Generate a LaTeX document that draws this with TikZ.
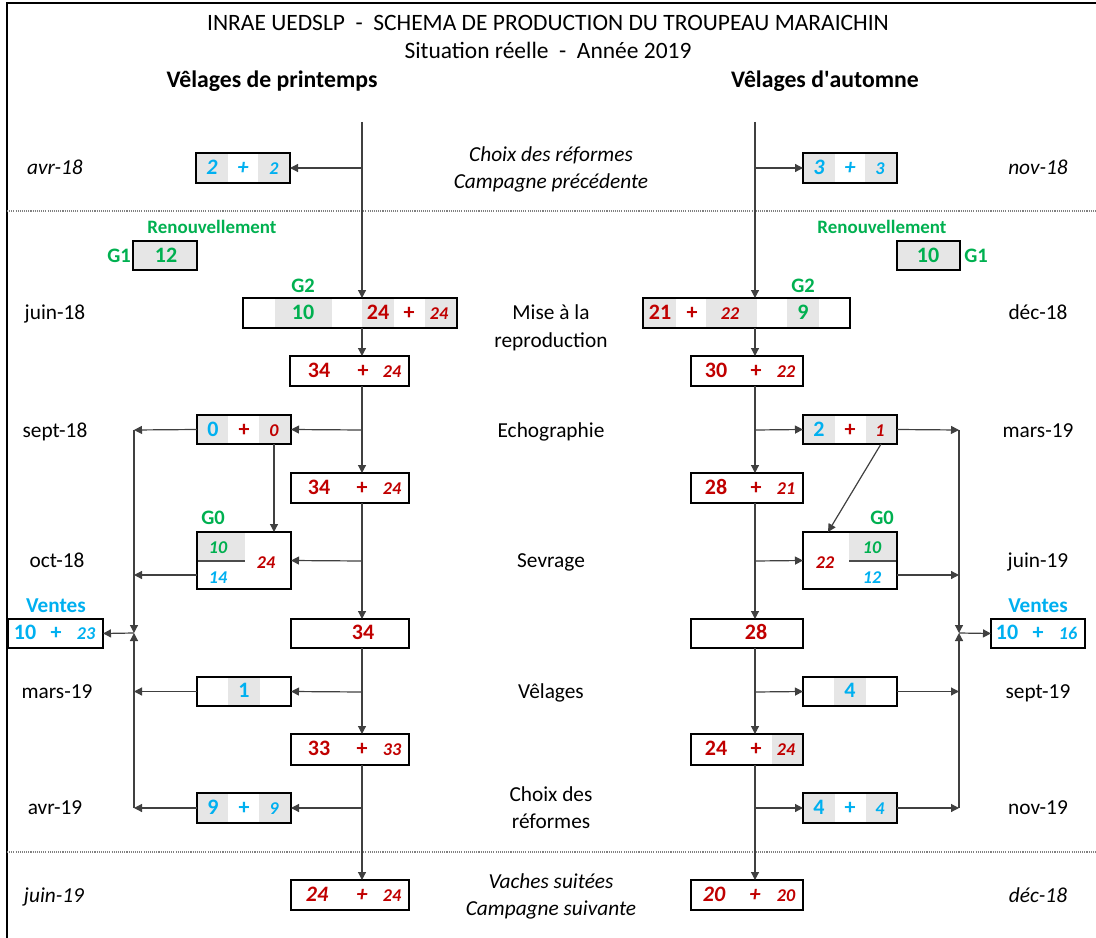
\documentclass[tikz,border=0pt]{standalone}
\usepackage{fontspec}
\setmainfont{Carlito}
\newfontfamily\nqfont{Carlito}
\usetikzlibrary{arrows.meta}
\definecolor{cred}{HTML}{C00000}
\definecolor{cblue}{HTML}{00B0F0}
\definecolor{cgreen}{HTML}{00B050}
\definecolor{cgray}{HTML}{E6E6E6}
\definecolor{cline}{HTML}{404040}
\newcommand\mybox[5]{\node[bx, minimum width={(#4-#2)*0.75pt}, minimum height={(#5-#3)*0.75pt}] (#1) at ({(#2+#4)/2},{(#3+#5)/2}) {};}
\newcommand\mycell[4]{\fill[cgray] (#1,#2) rectangle (#3,#4);}
\newcommand\tx[5][]{\node[tt,#1] (#2) at (#3,#4) {#5};}
\begin{document}
\begin{tikzpicture}[x=0.75pt,y=-0.75pt,
  tt/.style={inner sep=0pt, outer sep=0pt, anchor=center, text height=11pt, text depth=1pt, font=\fontsize{16}{19}\selectfont},
  it/.style={font=\fontsize{16}{19}\selectfont\itshape},
  hd/.style={font=\fontsize{17.8}{21}\selectfont\bfseries},
  ti/.style={font=\fontsize{17.6}{20}\selectfont},
  ren/.style={font=\fontsize{14.2}{17}\selectfont\bfseries, text=cgreen},
  glab/.style={font=\fontsize{15.4}{18}\selectfont\bfseries, text=cgreen},
  vlab/.style={font=\fontsize{15.9}{18}\selectfont\bfseries, text=cblue},
  num/.style={font=\fontsize{16.5}{19}\selectfont\bfseries},
  numi/.style={font=\fontsize{16.5}{19}\selectfont\bfseries\itshape},
  sm/.style={font=\fontsize{13.5}{16}\selectfont\bfseries\itshape},
  bx/.style={draw=black, line width=1.5pt, inner sep=0pt, outer sep=0pt},
  arr/.style={draw=cline, line width=0.9pt, -{Triangle[length=6pt,width=6pt]}},
  ln/.style={draw=cline, line width=0.9pt},
  sep/.style={draw=gray, line width=1.3pt, dash pattern=on 0.8pt off 0.8pt}]
\useasboundingbox (0,0) rectangle (1096,938);
% frame and separators
\draw[line width=1.5pt] (7,940) -- (7,3) -- (1098,3);
\draw[sep] (7,211) -- (1096,211);
\draw[sep] (7,852) -- (1096,852);
% titles
\tx[ti]{title1}{548}{24}{INRAE UEDSLP~~-~~SCHEMA DE PRODUCTION DU TROUPEAU MARAICHIN}
\tx[ti]{title2}{548}{52}{Situation réelle~~-~~Année 2019}
\tx[hd]{hdrL}{272}{81}{Vêlages de printemps}
\tx[hd]{hdrR}{825}{81}{Vêlages d{\nqfont '}automne}
% middle labels
\tx[it]{m0a}{551}{155}{Choix des réformes}
\tx[it]{m0b}{551}{182}{Campagne précédente}
\tx{m1a}{551}{313}{Mise à la}
\tx{m1b}{551}{341}{reproduction}
\tx{m2}{551}{431}{Echographie}
\tx{m3}{551}{561}{Sevrage}
\tx{m4}{551}{692}{Vêlages}
\tx{m5a}{551}{795}{Choix des}
\tx{m5b}{551}{822}{réformes}
\tx[it]{m6a}{551}{882}{Vaches suitées}
\tx[it]{m6b}{551}{909}{Campagne suivante}
% dates left
\tx[it]{dL0}{55}{168}{avr-18}
\tx{dL1}{55}{313}{juin-18}
\tx{dL2}{55}{431}{sept-18}
\tx{dL3}{57}{561}{oct-18}
\tx{dL4}{57}{692}{mars-19}
\tx{dL5}{55}{808}{avr-19}
\tx[it]{dL6}{54}{896}{juin-19}
% dates right
\tx[it]{dR0}{1038}{168}{nov-18}
\tx{dR1}{1038}{313}{déc-18}
\tx{dR2}{1038}{431}{mars-19}
\tx{dR3}{1038}{561}{juin-19}
\tx{dR4}{1038}{692}{sept-19}
\tx{dR5}{1038}{808}{nov-19}
\tx[it]{dR6}{1038}{896}{déc-18}
% grey cells
\mycell{196}{153}{228}{183}\mycell{258}{153}{290}{183}
\mycell{803}{153}{835}{183}\mycell{865}{153}{897}{183}
\mycell{133}{241}{197}{270}\mycell{897}{241}{960}{270}
\mycell{275}{298}{332}{328}\mycell{362}{298}{394}{328}\mycell{425}{298}{457}{328}
\mycell{643}{298}{676}{328}\mycell{706}{298}{757}{328}\mycell{787}{298}{819}{328}
\mycell{197}{415}{228}{444}\mycell{259}{415}{291}{444}
\mycell{803}{415}{835}{444}\mycell{866}{415}{897}{444}
\mycell{197}{532}{245}{561}\mycell{849}{532}{897}{561}
\mycell{228}{677}{260}{706}\mycell{834}{677}{866}{706}
\mycell{772}{734}{803}{765}
\mycell{197}{793}{228}{823}\mycell{259}{793}{291}{823}
\mycell{803}{793}{835}{823}\mycell{866}{793}{897}{823}
\draw[gray!60!black, line width=1.5pt] (197,561) -- (245,561);
\draw[gray!60!black, line width=1.5pt] (849,561) -- (897,561);
% boxes
\mybox{r0L}{196}{153}{290}{183}
\mybox{r0R}{803}{153}{897}{183}
\mybox{g1L}{133}{241}{197}{270}
\mybox{g1R}{897}{241}{960}{270}
\mybox{g2L}{243}{298}{457}{328}
\mybox{g2R}{643}{298}{850}{328}
\mybox{aL}{290}{356}{409}{386}
\mybox{aR}{691}{356}{803}{386}
\mybox{echoL}{197}{415}{291}{444}
\mybox{echoR}{803}{415}{897}{444}
\mybox{bL}{291}{473}{409}{503}
\mybox{bR}{691}{473}{803}{503}
\mybox{g0L}{197}{532}{291}{589}
\mybox{g0R}{803}{532}{897}{589}
\mybox{venL}{8}{619}{103}{648}
\mybox{venR}{991}{619}{1085}{648}
\mybox{cL}{291}{619}{409}{648}
\mybox{cR}{691}{619}{803}{648}
\mybox{velL}{197}{677}{291}{706}
\mybox{velR}{803}{677}{897}{706}
\mybox{dL}{291}{734}{409}{765}
\mybox{dR}{691}{734}{803}{765}
\mybox{refL}{197}{793}{291}{823}
\mybox{refR}{803}{793}{897}{823}
\mybox{finL}{291}{880}{409}{910}
\mybox{finR}{691}{880}{803}{910}
% box texts
\tx[numi,text=cblue]{t1}{212}{168}{2}\tx[numi,text=cblue]{t2}{243}{168}{+}\tx[sm,text=cblue]{t3}{274}{168}{2}
\tx[numi,text=cblue]{t4}{819}{168}{3}\tx[numi,text=cblue]{t5}{850}{168}{+}\tx[sm,text=cblue]{t6}{880}{168}{3}
\tx[ren]{renL}{212}{227}{Renouvellement}
\tx[ren]{renR}{882}{227}{Renouvellement}
\tx[glab]{g1La}{119}{256}{G1}\tx[num,text=cgreen]{t7}{166}{256}{12}
\tx[glab]{g1Ra}{976}{256}{G1}\tx[num,text=cgreen]{t8}{928}{256}{10}
\tx[glab]{g2La}{303}{286}{G2}\tx[glab]{g2Ra}{803}{286}{G2}
\tx[num,text=cgreen]{t9}{303}{313}{10}\tx[num,text=cred]{t10}{378}{313}{24}\tx[num,text=cred]{t11}{409}{313}{+}\tx[sm,text=cred]{t12}{439}{313}{24}
\tx[num,text=cred]{t13}{660}{313}{21}\tx[num,text=cred]{t14}{692}{313}{+}\tx[sm,text=cred]{t15}{730}{313}{22}\tx[num,text=cgreen]{t16}{803}{313}{9}
\tx[num,text=cred]{t17}{319}{371}{34}\tx[num,text=cred]{t18}{363}{371}{+}\tx[sm,text=cred]{t19}{392}{371}{24}
\tx[num,text=cred]{t20}{716}{371}{30}\tx[num,text=cred]{t21}{756}{371}{+}\tx[sm,text=cred]{t22}{786}{371}{22}
\tx[num,text=cblue]{t23}{213}{430}{0}\tx[num,text=cred]{t24}{244}{430}{+}\tx[sm,text=cred]{t25}{274}{430}{0}
\tx[num,text=cblue]{t26}{819}{430}{2}\tx[num,text=cred]{t27}{850}{430}{+}\tx[sm,text=cred]{t28}{880}{430}{1}
\tx[num,text=cred]{t29}{319}{488}{34}\tx[num,text=cred]{t30}{362}{488}{+}\tx[sm,text=cred]{t31}{392}{488}{24}
\tx[num,text=cred]{t32}{716}{488}{28}\tx[num,text=cred]{t33}{756}{488}{+}\tx[sm,text=cred]{t34}{786}{488}{21}
\tx[glab]{g0La}{213}{518}{G0}\tx[glab]{g0Ra}{882}{518}{G0}
\tx[sm,text=cgreen]{t35}{218}{547}{10}\tx[sm,text=cblue]{t36}{218}{577}{14}\tx[sm,text=cred]{t37}{266}{562}{24}
\tx[sm,text=cgreen]{t38}{872}{547}{10}\tx[sm,text=cblue]{t39}{872}{577}{12}\tx[sm,text=cred]{t40}{825}{562}{22}
\tx[vlab]{venLa}{56}{606}{Ventes}\tx[vlab]{venRa}{1038}{606}{Ventes}
\tx[num,text=cblue]{t41}{25}{633}{10}\tx[num,text=cblue]{t42}{56}{633}{+}\tx[sm,text=cblue]{t43}{86}{633}{23}
\tx[num,text=cblue]{t44}{1007}{633}{10}\tx[num,text=cblue]{t45}{1038}{633}{+}\tx[sm,text=cblue]{t46}{1068}{633}{16}
\tx[num,text=cred]{t47}{363}{633}{34}
\tx[num,text=cred]{t48}{756}{633}{28}
\tx[num,text=cblue]{t49}{244}{691}{1}
\tx[num,text=cblue]{t50}{850}{691}{4}
\tx[num,text=cred]{t51}{319}{749}{33}\tx[num,text=cred]{t52}{362}{749}{+}\tx[sm,text=cred]{t53}{392}{749}{33}
\tx[num,text=cred]{t54}{716}{749}{24}\tx[num,text=cred]{t55}{756}{749}{+}\tx[sm,text=cred]{t56}{786}{749}{24}
\tx[num,text=cblue]{t57}{213}{808}{9}\tx[num,text=cblue]{t58}{244}{808}{+}\tx[sm,text=cblue]{t59}{274}{808}{9}
\tx[num,text=cblue]{t60}{819}{808}{4}\tx[num,text=cblue]{t61}{850}{808}{+}\tx[sm,text=cblue]{t62}{880}{808}{4}
\tx[numi,text=cred]{t63}{317}{895}{24}\tx[numi,text=cred]{t64}{362}{895}{+}\tx[sm,text=cred]{t65}{392}{895}{24}
\tx[numi,text=cred]{t66}{714}{895}{20}\tx[numi,text=cred]{t67}{755}{895}{+}\tx[sm,text=cred]{t68}{786}{895}{20}
% coordinates
\coordinate (topL) at (362,122);
\coordinate (topR) at (755,122);
\coordinate (sL0) at (362,168);
\coordinate (sR0) at (755,168);
\coordinate (sL1) at (362,430);
\coordinate (sR1) at (755,430);
\coordinate (sL2) at (362,561);
\coordinate (sR2) at (755,561);
\coordinate (sL3) at (362,692);
\coordinate (sR3) at (755,692);
\coordinate (sL4) at (362,808);
\coordinate (sR4) at (755,808);
\coordinate (colLtop) at (134,430);
\coordinate (colLmid) at (134,633);
\coordinate (colLbot) at (134,808);
\coordinate (colRtop) at (959,430);
\coordinate (colRmid) at (959,633);
\coordinate (colRbot) at (959,808);
\coordinate (g0Lout) at (197,575);
\coordinate (g0Rout) at (897,575);
\coordinate (echoLdn) at (274,444);
\coordinate (echoRdn) at (881,444);
\coordinate (g0Rin) at (828,532);
% main lines
\draw[arr] (topL) -- (topL |- g2L.north);
\draw[arr] (topR) -- (topR |- g2R.north);
\draw[arr] (topL |- g2L.south) -- (topL |- aL.north);
\draw[arr] (topR |- g2R.south) -- (topR |- aR.north);
\draw[arr] (topL |- aL.south) -- (topL |- bL.north);
\draw[arr] (topR |- aR.south) -- (topR |- bR.north);
\draw[arr] (topL |- bL.south) -- (topL |- cL.north);
\draw[arr] (topR |- bR.south) -- (topR |- cR.north);
\draw[arr] (topL |- cL.south) -- (topL |- dL.north);
\draw[arr] (topR |- cR.south) -- (topR |- dR.north);
\draw[arr] (topL |- dL.south) -- (topL |- finL.north);
\draw[arr] (topR |- dR.south) -- (topR |- finR.north);
% side arrows
\draw[arr] (sL0) -- (r0L.east);
\draw[arr] (sR0) -- (r0R.west);
\draw[arr] (sL1) -- (echoL.east);
\draw[arr] (sR1) -- (echoR.west);
\draw[arr] (sL2) -- (g0L.east);
\draw[arr] (sR2) -- (g0R.west);
\draw[arr] (sL3) -- (velL.east);
\draw[arr] (sR3) -- (velR.west);
\draw[arr] (sL4) -- (refL.east);
\draw[arr] (sR4) -- (refR.west);
% to collectors
\draw[arr] (echoL.west) -- (colLtop);
\draw[arr] (g0Lout) -- (colLtop |- g0Lout);
\draw[arr] (velL.west) -- (colLtop |- velL.west);
\draw[arr] (refL.west) -- (colLbot);
\draw[arr] (echoR.east) -- (colRtop);
\draw[arr] (g0Rout) -- (colRtop |- g0Rout);
\draw[arr] (velR.east) -- (colRtop |- velR.east);
\draw[arr] (refR.east) -- (colRbot);
\draw[arr] (colLtop) -- (colLmid);
\draw[arr] (colLbot) -- (colLmid);
\draw[arr] (colRtop) -- (colRmid);
\draw[arr] (colRbot) -- (colRmid);
\draw[arr] (colLmid) -- (venL.east);
\draw[arr] (colRmid) -- (venR.west);
% to G0
\draw[arr] (echoLdn) -- (echoLdn |- g0L.north);
\draw[arr] (echoRdn) -- (g0Rin);
\end{tikzpicture}
\end{document}
